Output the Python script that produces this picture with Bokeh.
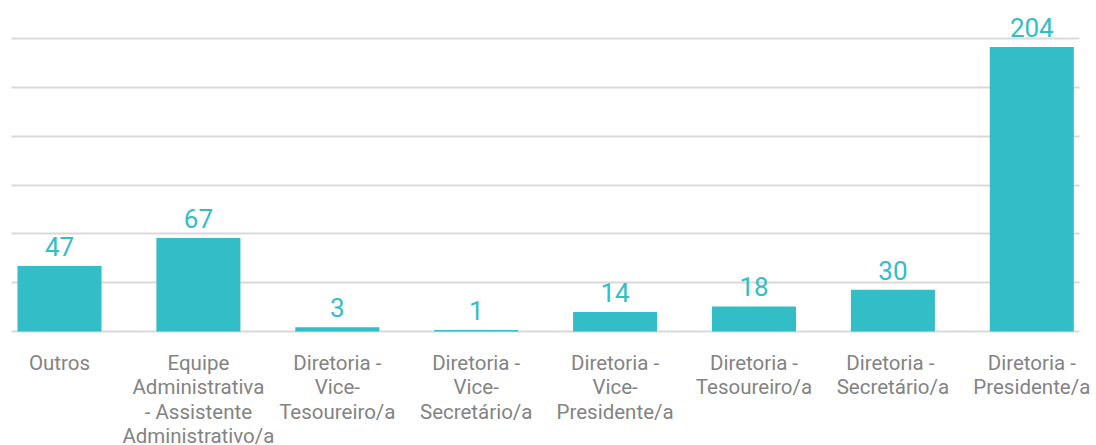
from bokeh.plotting import figure
from bokeh.models import ColumnDataSource, FixedTicker, Range1d, LabelSet
from bokeh.core.properties import value
from bokeh.embed import file_html
from bokeh.resources import INLINE

categories = [
    "Outros",
    "Equipe\nAdministrativa\n- Assistente\nAdministrativo/a",
    "Diretoria -\nVice-\nTesoureiro/a",
    "Diretoria -\nVice-\nSecretário/a",
    "Diretoria -\nVice-\nPresidente/a",
    "Diretoria -\nTesoureiro/a",
    "Diretoria  -\nSecretário/a",
    "Diretoria -\nPresidente/a",
]
counts = [47, 67, 3, 1, 14, 18, 30, 204]
y_ticks = [0, 35, 70, 105, 140, 175, 210]

BAR = "#33bdc6"
LABEL_GREY = "#838383"
W, H = 1096, 445
PX_PER_CAT = 138.9          # horizontal pixels per category
PX_PER_UNIT = 1.395         # vertical pixels per count
FIRST_CENTER = 59           # px
BASELINE = 331              # px from top
GRID_LEFT, GRID_RIGHT = 11, 1079
LINE_STEP = 24.6            # px between label lines
FIRST_LINE_OFFSET = 19      # px below baseline to top of first label line

x_start = -FIRST_CENTER / PX_PER_CAT
x_end = x_start + W / PX_PER_CAT
y_start = -(H - BASELINE) / PX_PER_UNIT
y_end = BASELINE / PX_PER_UNIT
grid_x0 = x_start + GRID_LEFT / PX_PER_CAT
grid_x1 = x_start + GRID_RIGHT / PX_PER_CAT

xs = list(range(len(categories)))
src = ColumnDataSource(dict(x=xs, top=counts, label=[str(c) for c in counts]))

p = figure(width=W, height=H, output_backend="svg", toolbar_location=None,
           x_range=Range1d(x_start, x_end), y_range=Range1d(y_start, y_end),
           min_border_left=0, min_border_right=0, min_border_top=0, min_border_bottom=0)
p.outline_line_color = None
p.background_fill_color = "white"
p.border_fill_color = "white"

p.vbar(x="x", top="top", bottom=0, width=0.605, source=src, color=BAR, line_color=None)

vals = LabelSet(x="x", y="top", text="label", source=src, text_align="center",
                text_baseline="alphabetic", y_offset=10, text_color=BAR,
                text_font=value("Roboto"), text_font_size="26px")
p.add_layout(vals)

# category labels, one LabelSet per text line so that every line is centred
split = [c.split("\n") for c in categories]
n_lines = max(len(s) for s in split)
for k in range(n_lines):
    idx = [i for i, s in enumerate(split) if len(s) > k]
    line_src = ColumnDataSource(dict(x=[xs[i] for i in idx],
                                     y=[0] * len(idx),
                                     t=[split[i][k] for i in idx]))
    p.add_layout(LabelSet(x="x", y="y", text="t", source=line_src,
                          text_align="center", text_baseline="top",
                          y_offset=-(FIRST_LINE_OFFSET + k * LINE_STEP),
                          text_color=LABEL_GREY, text_font=value("Roboto"),
                          text_font_size="20.5px"))

p.xaxis.visible = False
p.yaxis.visible = False

p.xgrid.visible = False
p.ygrid.ticker = FixedTicker(ticks=y_ticks)
p.ygrid.cross_bounds = (grid_x0, grid_x1)
p.ygrid.grid_line_color = "#d9d9d9"
p.ygrid.grid_line_width = 2

open("out.html", "w").write(file_html(p, INLINE))
